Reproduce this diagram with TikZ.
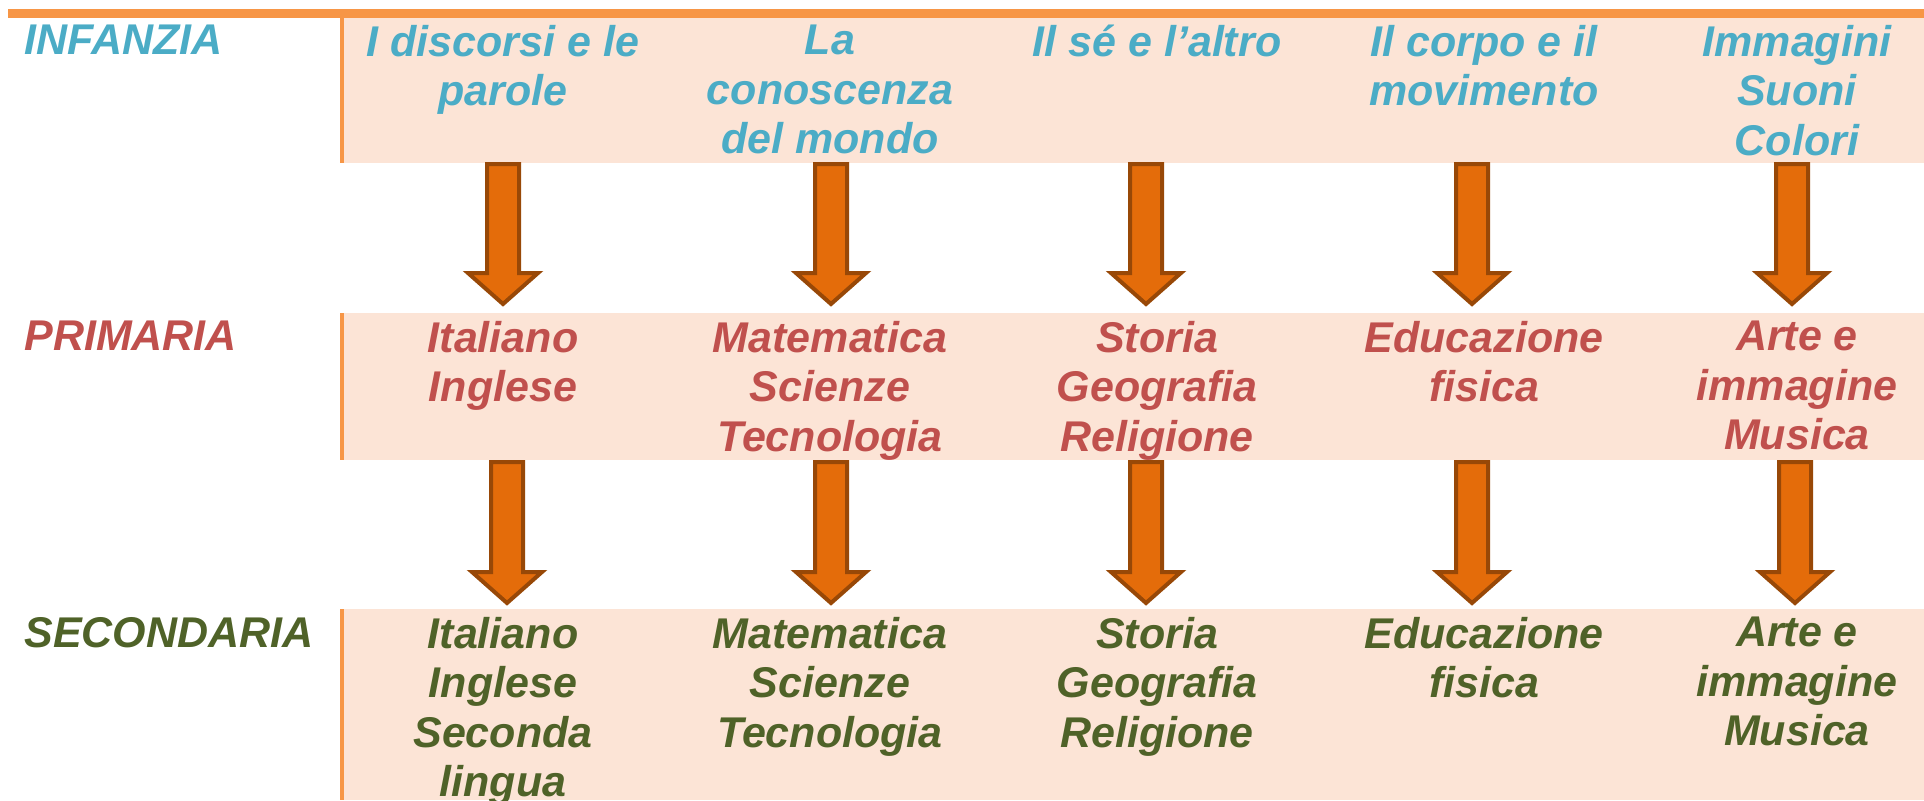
\documentclass[tikz,border=0pt]{standalone}
\usepackage{fontspec}
\setmainfont{Liberation Sans}

\definecolor{ruleorange}{HTML}{F79646}
\definecolor{bandfill}{HTML}{FCE4D6}
\definecolor{arrowfill}{HTML}{E46C0A}
\definecolor{arrowline}{HTML}{984807}
\definecolor{infblue}{HTML}{4BACC6}
\definecolor{prired}{HTML}{C0504D}
\definecolor{secgreen}{HTML}{4F6228}

\begin{document}
\begin{tikzpicture}[x=0.5pt,y=-0.5pt]

\tikzset{cell/.style = {align=center, anchor=north, inner sep=0pt,
    font=\bfseries\itshape\fontsize{21.5}{24.65}\selectfont}}
\tikzset{grade/.style = {cell, align=left, anchor=north west}}
\tikzset{bigarrow/.style = {fill=arrowfill, draw=arrowline, line width=2pt, line join=miter}}

\useasboundingbox (0,0) rectangle (1924,800);
\clip (0,0) rectangle (1924,800);

% bands
\fill[ruleorange] (8,9) rectangle (1924,17.5);
\fill[bandfill] (341,17.5) rectangle (1924,163);
\fill[bandfill] (341,313) rectangle (1924,459.5);
\fill[bandfill] (341,609) rectangle (1924,800);
\draw[ruleorange, line width=1.6pt] (342,17.5) -- (342,163);
\draw[ruleorange, line width=1.6pt] (342,313) -- (342,459.5);
\draw[ruleorange, line width=1.6pt] (342,609) -- (342,800);

% arrows
\foreach \x/\t/\b in {503/164/304, 831/164/304, 1146/164/304, 1472/164/304, 1792/164/304,
                      507/462/603, 831/462/603, 1146/462/603, 1472/462/603, 1795/462/603}
  \draw[bigarrow] (\x-16,\t) -- (\x+16,\t) -- (\x+16,\b-31) -- (\x+35,\b-31)
     -- (\x,\b) -- (\x-35,\b-31) -- (\x-16,\b-31) -- cycle;

% row labels
\node[grade, text=infblue] (linf) at (24,25) {INFANZIA};
\node[grade, text=prired] (lpri) at (24,321) {PRIMARIA};
\node[grade, text=secgreen] (lsec) at (24,617) {SECONDARIA};

% infanzia
\node[cell, text=infblue] (inf1) at (503,25) {I discorsi e le\\parole};
\node[cell, text=infblue] (inf2) at (830,25) {La\\conoscenza\\del mondo};
\node[cell, text=infblue] (inf3) at (1157,25) {Il sé e l’altro};
\node[cell, text=infblue] (inf4) at (1484,25) {Il corpo e il\\movimento};
\node[cell, text=infblue] (inf5) at (1797,25) {Immagini\\Suoni\\Colori};

% primaria
\node[cell, text=prired] (pri1) at (503,321) {Italiano\\Inglese};
\node[cell, text=prired] (pri2) at (830,321) {Matematica\\Scienze\\Tecnologia};
\node[cell, text=prired] (pri3) at (1157,321) {Storia\\Geografia\\Religione};
\node[cell, text=prired] (pri4) at (1484,321) {Educazione\\fisica};
\node[cell, text=prired] (pri5) at (1797,321) {Arte e\\immagine\\Musica};

% secondaria
\node[cell, text=secgreen] (sec1) at (503,617) {Italiano\\Inglese\\Seconda\\lingua};
\node[cell, text=secgreen] (sec2) at (830,617) {Matematica\\Scienze\\Tecnologia};
\node[cell, text=secgreen] (sec3) at (1157,617) {Storia\\Geografia\\Religione};
\node[cell, text=secgreen] (sec4) at (1484,617) {Educazione\\fisica};
\node[cell, text=secgreen] (sec5) at (1797,617) {Arte e\\immagine\\Musica};

\end{tikzpicture}
\end{document}
